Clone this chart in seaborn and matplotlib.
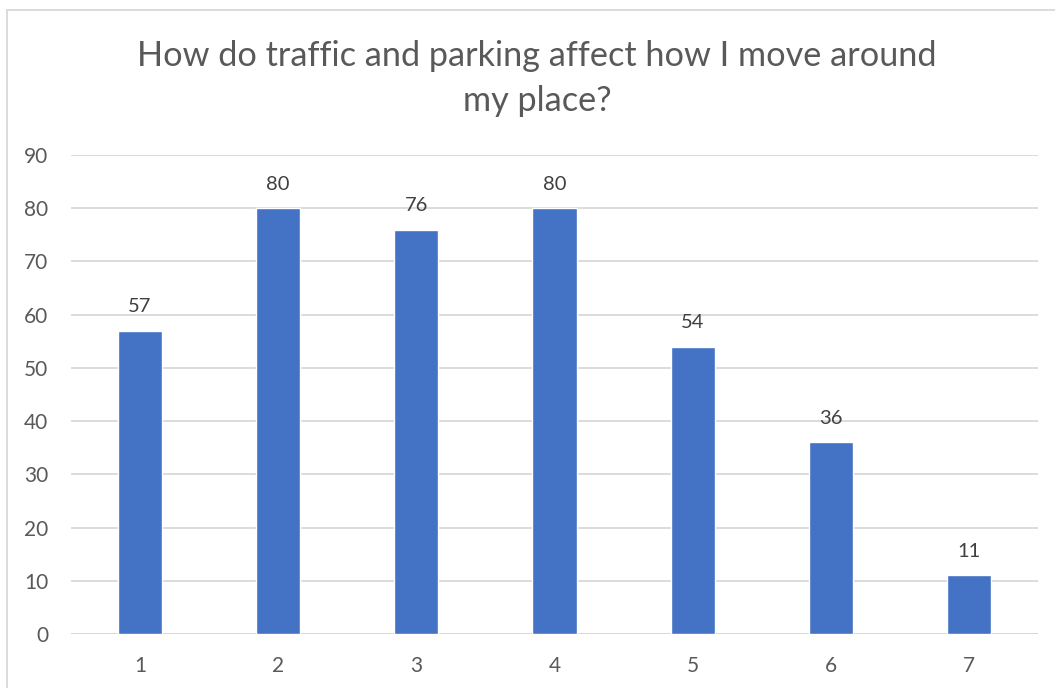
import pandas as pd
import matplotlib.pyplot as plt
import seaborn as sns
from matplotlib.patches import Rectangle

# Data
categories = ['1', '2', '3', '4', '5', '6', '7']
counts = [57, 80, 76, 80, 54, 36, 11]
y_ticks = [0, 10, 20, 30, 40, 50, 60, 70, 80, 90]

df = pd.DataFrame({'category': categories, 'count': counts})

sns.set_style('white')
plt.rcParams['font.family'] = ['Lato', 'DejaVu Sans']
text_col = '#595959'

fig = plt.figure(figsize=(10.55, 6.88), dpi=100)
ax = fig.add_axes([71 / 1055, 1 - 634 / 688, (1038 - 71) / 1055, (634 - 155) / 688])

sns.barplot(x='category', y='count', data=df, color='#4472C4', width=0.32,
            saturation=1, ax=ax, zorder=3)

for i, v in enumerate(counts):
    ax.text(i, v + 2.9, str(v), ha='center', va='bottom', fontsize=14.5, color='#404040')

ax.set_ylim(0, 90)
ax.set_xlim(-0.5, len(categories) - 0.5)
ax.set_yticks(y_ticks)
ax.yaxis.grid(True, color='#D9D9D9', linewidth=1.3, zorder=0)
ax.set_axisbelow(True)
for s in ax.spines.values():
    s.set_visible(False)
ax.axhline(0, color='#D9D9D9', linewidth=1.3, zorder=1)
ax.tick_params(axis='both', length=0, labelsize=15, labelcolor=text_col)
ax.tick_params(axis='y', pad=16.5)
ax.tick_params(axis='x', pad=16)
ax.set_xlabel('')
ax.set_ylabel('')

fig.text(0.509, 1 - 56 / 688, 'How do traffic and parking affect how I move around',
         ha='center', va='center', fontsize=24.7, color=text_col)
fig.text(0.509, 1 - 101 / 688, 'my place?', ha='center', va='center', fontsize=24.7, color=text_col)

fig.patches.append(Rectangle((7 / 1055, -0.01), 1.0, 1 - 10 / 688 + 0.01,
                             transform=fig.transFigure, fill=False,
                             edgecolor='#D9D9D9', linewidth=1.3))

fig.savefig('out.png', dpi=100)
